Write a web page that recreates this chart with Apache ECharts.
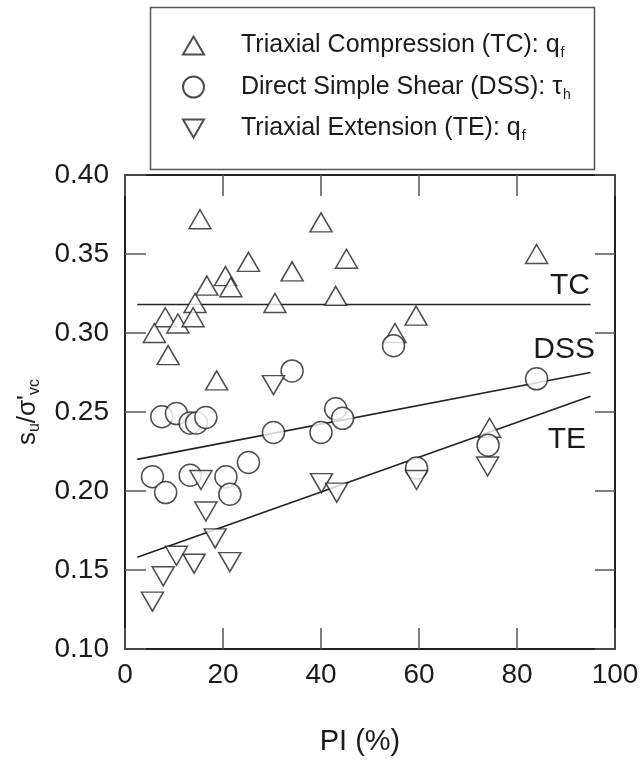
<!DOCTYPE html>
<html>
<head>
<meta charset="utf-8">
<script src="https://cdn.jsdelivr.net/npm/echarts@6/dist/echarts.min.js"></script>
<style>html,body{margin:0;padding:0;background:#fff;}#chart{width:642px;height:761px;}</style>
</head>
<body>
<div id="chart"></div>
<script>
// Triaxial Compression (TC): [PI %, su/sigma'vc]
var tcData = [
  [15.3,0.372],[40.0,0.370],[45.2,0.347],[25.2,0.345],[34.1,0.339],[20.5,0.336],
  [16.7,0.330],[21.6,0.329],[14.3,0.319],[30.6,0.319],[43.0,0.3235],[8.2,0.310],
  [10.8,0.306],[13.9,0.310],[6.0,0.300],[8.8,0.286],[18.7,0.270],[84.0,0.350],
  [59.4,0.311],[55.1,0.300],[74.4,0.240]
];
// Direct Simple Shear (DSS)
var dssData = [
  [34.1,0.276],[54.8,0.292],[84.0,0.271],[7.5,0.247],[10.5,0.249],[13.3,0.243],
  [14.6,0.243],[16.5,0.2465],[30.3,0.237],[40.0,0.237],[43.0,0.252],[44.4,0.246],
  [5.6,0.209],[8.3,0.199],[13.3,0.210],[20.6,0.209],[21.4,0.198],[25.2,0.218],
  [59.5,0.2145],[74.1,0.229]
];
// Triaxial Extension (TE)
var teData = [
  [30.3,0.267],[15.5,0.207],[16.5,0.187],[18.4,0.170],[10.5,0.159],[14.1,0.154],
  [7.8,0.146],[5.6,0.130],[21.4,0.155],[40.1,0.205],[43.2,0.199],[59.5,0.207],
  [74.0,0.2155]
];
// Trend lines
var tcLine = [[2.5,0.318],[95,0.318]];
var dssLine = [[2.5,0.220],[95,0.275]];
var teLine = [[2.5,0.158],[95,0.260]];

var xTicks = [0,20,40,60,80,100];
var yTicks = [0.10,0.15,0.20,0.25,0.30,0.35,0.40];

var FONT = 'Liberation Sans, Arial, sans-serif';
var INK = '#1a1a1a';

var chart = echarts.init(document.getElementById('chart'), null, {renderer:'canvas'});

var markerStyle = {color:'#fff', borderColor:'#222', borderWidth:1.5};
var lineStyle = {color:'#222', width:1.6};

var legendText = {
  'TC': '{g|}{m|Triaxial Compression (TC): q}{s|f}',
  'DSS': '{g|}{m|Direct Simple Shear (DSS): τ}{s|h}',
  'TE': '{g|}{m|Triaxial Extension (TE): q}{s|f}'
};

var option = {
  animation: false,
  backgroundColor: '#fff',
  grid: {left:125, right:27, top:175, bottom:109, containLabel:false},
  legend: {
    data: [
      {name:'TC', icon:'path://M11,0L22,19L0,19Z'},
      {name:'DSS', icon:'circle'},
      {name:'TE', icon:'path://M0,0L22,0L11,19Z'}
    ],
    orient: 'vertical',
    left: 177, top: 28,
    itemWidth: 21, itemHeight: 21,
    itemGap: 14,
    formatter: function(n){ return legendText[n]; },
    textStyle: {
      fontFamily: FONT, color: INK, fontSize: 25,
      rich: {
        g: {width: 32},
        m: {fontSize: 25, fontFamily: FONT, color: INK, lineHeight: 30, verticalAlign:'middle'},
        s: {fontSize: 14, fontFamily: FONT, color: INK, lineHeight: 30, verticalAlign:'bottom', padding:[0,0,0,1]}
      }
    }
  },
  xAxis: [{
    type:'value', min:0, max:100, interval:20, position:'bottom',
    axisLine:{show:true, onZero:false, lineStyle:{color:'#222', width:2}},
    axisTick:{inside:true, length:21, lineStyle:{color:'#555', width:1.5}},
    axisLabel:{fontSize:28, color:INK, fontFamily:FONT, margin:12},
    splitLine:{show:false},
    name:'PI (%)', nameLocation:'middle', nameGap:78,
    nameTextStyle:{fontSize:29, color:INK, fontFamily:FONT, padding:[0,20,0,0]}
  },{
    type:'value', min:0, max:100, interval:20, position:'top',
    axisLine:{show:true, onZero:false, lineStyle:{color:'#222', width:2}},
    axisTick:{inside:true, length:21, lineStyle:{color:'#555', width:1.5}},
    axisLabel:{show:false}, splitLine:{show:false}
  }],
  yAxis: [{
    type:'value', min:0.1, max:0.4, interval:0.05, position:'left',
    axisLine:{show:true, onZero:false, lineStyle:{color:'#222', width:2}},
    axisTick:{inside:true, length:21, lineStyle:{color:'#555', width:1.5}},
    axisLabel:{fontSize:28, color:INK, fontFamily:FONT, margin:16,
      formatter:function(v){ return v.toFixed(2); }},
    splitLine:{show:false}
  },{
    type:'value', min:0.1, max:0.4, interval:0.05, position:'right',
    axisLine:{show:true, onZero:false, lineStyle:{color:'#222', width:2}},
    axisTick:{inside:true, length:20, lineStyle:{color:'#555', width:1.5}},
    axisLabel:{show:false}, splitLine:{show:false}
  }],
  series: [
    {type:'line', data:tcLine, symbol:'none', lineStyle:lineStyle, z:1, silent:true},
    {type:'line', data:dssLine, symbol:'none', lineStyle:lineStyle, z:1, silent:true},
    {type:'line', data:teLine, symbol:'none', lineStyle:lineStyle, z:1, silent:true},
    {name:'TC', type:'scatter', data:tcData, symbol:'triangle', symbolSize:[22,19],
      itemStyle:markerStyle, z:3},
    {name:'DSS', type:'scatter', data:dssData, symbol:'circle', symbolSize:22,
      itemStyle:markerStyle, z:4},
    {name:'TE', type:'scatter', data:teData, symbol:'triangle', symbolSize:[22,19], symbolRotate:180,
      itemStyle:markerStyle, z:5}
  ],
  graphic: [
    {type:'rect', left:148, top:5, shape:{width:444, height:162},
      style:{fill:'none', stroke:'#555', lineWidth:1.5}, z:0},
    {type:'text', x:590, y:286, style:{text:'TC', font:'30px '+FONT, fill:INK, textAlign:'right', textVerticalAlign:'middle'}},
    {type:'text', x:595, y:350, style:{text:'DSS', font:'30px '+FONT, fill:INK, textAlign:'right', textVerticalAlign:'middle'}},
    {type:'text', x:586, y:440, style:{text:'TE', font:'30px '+FONT, fill:INK, textAlign:'right', textVerticalAlign:'middle'}},
    {type:'text', x:28, y:412, rotation:Math.PI/2,
      style:{
        text:'{m|s}{s|u}{m|/σ\'}{s|vc}',
        align:'center', verticalAlign:'middle',
        rich:{
          m:{fontSize:26, fontFamily:FONT, fill:INK, color:INK, lineHeight:30, verticalAlign:'middle'},
          s:{fontSize:16, fontFamily:FONT, fill:INK, color:INK, lineHeight:30, verticalAlign:'bottom'}
        }
      }}
  ]
};
chart.setOption(option);
</script>
</body>
</html>
